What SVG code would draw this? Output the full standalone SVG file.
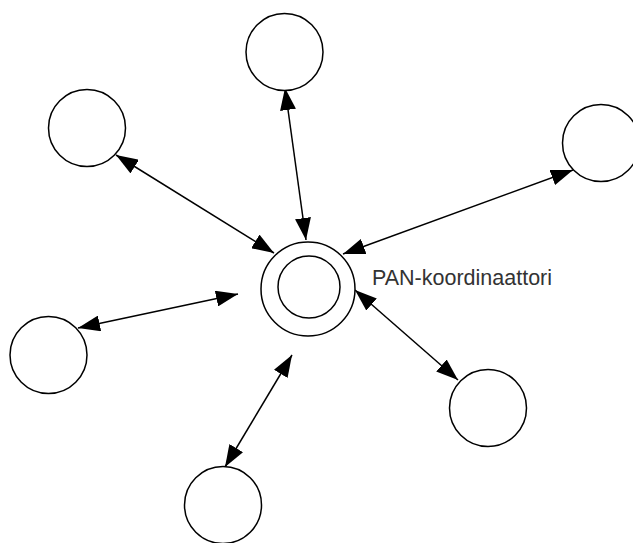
<svg xmlns="http://www.w3.org/2000/svg" width="633" height="543" viewBox="0 0 633 543">
  <style>
    .node { fill: #ffffff; stroke: #000000; stroke-width: 1.5; }
    .link { fill: none; stroke: #000000; stroke-width: 1.5; marker-start: url(#head); marker-end: url(#head); }
    .label { font-family: "Liberation Sans", Arial, sans-serif; font-size: 21.5px; fill: #333333; }
  </style>
  <defs>
    <!-- solid triangular arrowhead, used at both ends of every link -->
    <marker id="head" viewBox="0 0 22 16" refX="22" refY="8" markerWidth="22" markerHeight="16" markerUnits="userSpaceOnUse" orient="auto-start-reverse">
      <path d="M0,0 L22,8 L0,16 Z" fill="#000000"/>
    </marker>
  </defs>
  <rect width="633" height="543" fill="#ffffff"/>

  <g id="connectors">
    <line class="link" x1="285" y1="88" x2="306" y2="240"/>
    <line class="link" x1="116" y1="155" x2="274" y2="253"/>
    <line class="link" x1="573" y1="170" x2="343" y2="254"/>
    <line class="link" x1="78" y1="328" x2="238" y2="294"/>
    <line class="link" x1="355" y1="290" x2="458" y2="380"/>
    <line class="link" x1="292" y1="355" x2="225" y2="467"/>
  </g>

  <g id="coordinator">
    <circle class="node" cx="308" cy="289" r="47"/>
    <circle class="node" cx="309" cy="287" r="31"/>
    <text class="label" x="372" y="285">PAN-koordinaattori</text>
  </g>
  <g id="node-top"><circle class="node" cx="284.5" cy="52" r="38.5"/></g>
  <g id="node-upper-left"><circle class="node" cx="87" cy="128" r="38.5"/></g>
  <g id="node-right"><circle class="node" cx="601" cy="143" r="38.5"/></g>
  <g id="node-left"><circle class="node" cx="48.5" cy="355" r="38.5"/></g>
  <g id="node-lower-right"><circle class="node" cx="488" cy="408" r="38.5"/></g>
  <g id="node-bottom"><circle class="node" cx="223" cy="505" r="38.5"/></g>
</svg>
